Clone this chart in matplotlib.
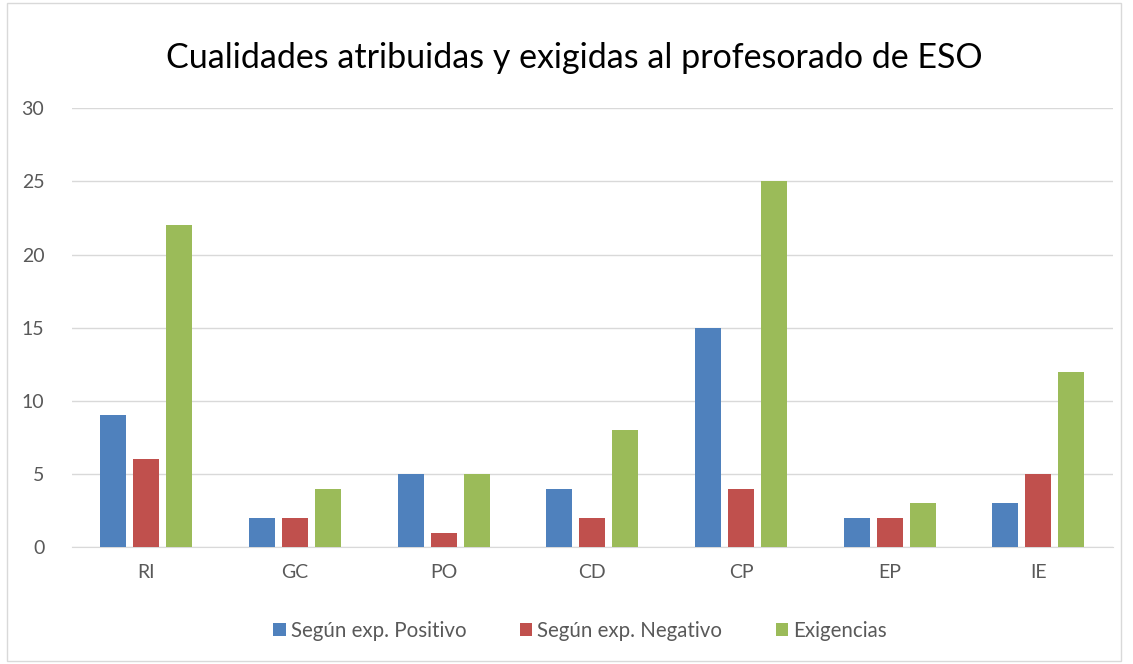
import matplotlib.pyplot as plt
import numpy as np
from matplotlib.patches import Rectangle

plt.rcParams['font.family'] = ['Lato', 'DejaVu Sans']

categorias = ['RI', 'GC', 'PO', 'CD', 'CP', 'EP', 'IE']
positivo = [9, 2, 5, 4, 15, 2, 3]
negativo = [6, 2, 1, 2, 4, 2, 5]
exigencias = [22, 4, 5, 8, 25, 3, 12]
series = ['Según exp. Positivo', 'Según exp. Negativo', 'Exigencias']
colores = ['#4F81BD', '#C0504D', '#9BBB59']

fig = plt.figure(figsize=(11.33, 6.64), dpi=100)
fig.patches.append(Rectangle((0.006, 0.004), 0.983, 0.992, transform=fig.transFigure,
                             fill=False, edgecolor='#D9D9D9', lw=1))
ax = fig.add_axes([0.0636, 0.176, 0.9184, 0.661])

x = np.arange(len(categorias))
w = 0.175
paso = 0.222
for i, (vals, nombre, c) in enumerate(zip([positivo, negativo, exigencias], series, colores)):
    ax.bar(x + (i - 1) * paso, vals, w, color=c, label=nombre, zorder=3)

ax.set_xlim(-0.5, len(categorias) - 0.5)
ax.set_ylim(0, 30)
ax.set_yticks(range(0, 31, 5))
ax.set_xticks(x)
ax.set_xticklabels(categorias)
ax.grid(axis='y', color='#D9D9D9', lw=1, zorder=0)
for s in ['top', 'right', 'left']:
    ax.spines[s].set_visible(False)
ax.spines['bottom'].set_color('#D9D9D9')
ax.tick_params(length=0, labelsize=14, colors='#595959')
ax.tick_params(axis='y', pad=20)
ax.tick_params(axis='x', pad=12)

fig.text(0.507, 0.913, 'Cualidades atribuidas y exigidas al profesorado de ESO',
         ha='center', va='center', fontsize=24.5, color='#000000')
ax.legend(loc='center', bbox_to_anchor=(0.512, 0.05), bbox_transform=fig.transFigure,
          ncol=3, frameon=False, fontsize=14.8, labelcolor='#595959',
          handlelength=0.6, handleheight=0.6, handletextpad=0.25, columnspacing=2.6)

plt.savefig('out.png', dpi=100)
